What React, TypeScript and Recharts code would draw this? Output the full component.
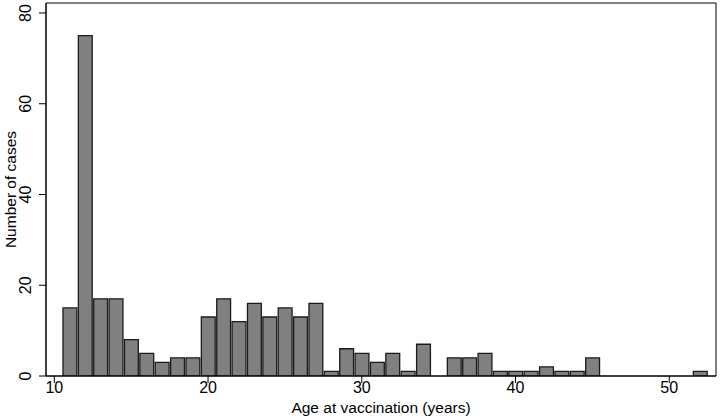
import React from 'react'
import { ComposedChart, Bar, XAxis, YAxis, ReferenceArea } from 'recharts'

// histogram: number of cases per year of age at vaccination (1-year bins)
const ages = [
  11, 12, 13, 14, 15, 16, 17, 18, 19, 20, 21, 22, 23, 24, 25, 26, 27, 28, 29, 30, 31,
  32, 33, 34, 35, 36, 37, 38, 39, 40, 41, 42, 43, 44, 45, 46, 47, 48, 49, 50, 51, 52,
]
const cases = [
  15, 75, 17, 17, 8, 5, 3, 4, 4, 13, 17, 12, 16, 13, 15, 13, 16, 1, 6, 5, 3,
  5, 1, 7, 0, 4, 4, 5, 1, 1, 1, 2, 1, 1, 4, 0, 0, 0, 0, 0, 0, 1,
]
const xTicks = [10, 20, 30, 40, 50]
const yTicks = [0, 20, 40, 60, 80]

const data = ages.map((age, i) => ({ age, cases: cases[i] }))

const W = 721
const H = 420
const margin = { top: 3, right: 5, bottom: 0, left: 0 }
const yAxisWidth = 46
const xAxisHeight = 44
const xDomain: [number, number] = [9.46, 53.04]
const yDomain: [number, number] = [0, 82.2]
const plotW = W - margin.left - margin.right - yAxisWidth
const barW = plotW / (xDomain[1] - xDomain[0])

const font = '"Liberation Sans", Arial, sans-serif'

const XTick = (props: any) => {
  const { x, payload } = props
  return (
    <text x={x} y={393} textAnchor="middle" fontSize={16} fontFamily={font} fill="#000">
      {payload.value}
    </text>
  )
}

const YTick = (props: any) => {
  const { y, payload } = props
  return (
    <text
      x={31}
      y={y}
      transform={`rotate(-90, 31, ${y})`}
      textAnchor="middle"
      fontSize={16}
      fontFamily={font}
      fill="#000"
    >
      {payload.value}
    </text>
  )
}

export default function App() {
  const plotCx = margin.left + yAxisWidth + plotW / 2
  const plotCy = margin.top + (H - margin.top - xAxisHeight) / 2
  return (
    <div style={{ position: 'absolute', left: 0, top: 0, background: '#fff' }}>
      <ComposedChart width={W} height={H} data={data} margin={margin}>
        <XAxis
          dataKey="age"
          type="number"
          domain={xDomain}
          ticks={xTicks}
          allowDataOverflow
          height={xAxisHeight}
          tickSize={7}
          tick={<XTick />}
          stroke="#000"
          label={{
            content: () => (
              <text x={plotCx} y={413} textAnchor="middle" fontSize={15.5} fontFamily={font} fill="#000">
                Age at vaccination (years)
              </text>
            ),
          }}
        />
        <YAxis
          type="number"
          domain={yDomain}
          ticks={yTicks}
          allowDataOverflow
          width={yAxisWidth}
          tickSize={7}
          tick={<YTick />}
          stroke="#000"
          label={{
            content: () => (
              <text
                x={16}
                y={plotCy}
                transform={`rotate(-90, 16, ${plotCy})`}
                textAnchor="middle"
                fontSize={15.5}
                fontFamily={font}
                fill="#000"
              >
                Number of cases
              </text>
            ),
          }}
        />
        <Bar
          dataKey="cases"
          barSize={barW}
          fill="#808080"
          stroke="#1a1a1a"
          strokeWidth={1.3}
          isAnimationActive={false}
        />
        <ReferenceArea
          x1={xDomain[0]}
          x2={xDomain[1]}
          y1={yDomain[0]}
          y2={yDomain[1]}
          fill="none"
          fillOpacity={0}
          stroke="#000"
          strokeWidth={1}
          ifOverflow="visible"
        />
      </ComposedChart>
    </div>
  )
}
